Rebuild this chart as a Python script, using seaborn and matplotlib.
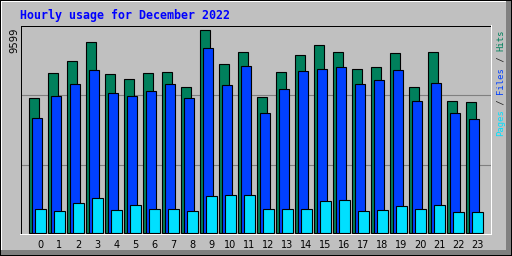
import numpy as np
import pandas as pd
import matplotlib
matplotlib.use("Agg")
import matplotlib.pyplot as plt
from matplotlib.patches import Rectangle
import seaborn as sns

hours = list(range(24))
hits = [6384, 7566, 8134, 9032, 7519, 7282, 7566, 7614, 6904, 9599, 7992, 8559,
        6431, 7614, 8417, 8890, 8559, 7755, 7850, 8512, 6904, 8559, 6242, 6195]
files = [5438, 6479, 7046, 7708, 6621, 6479, 6715, 7046, 6384, 8749, 6999, 7897,
         5675, 6810, 7661, 7756, 7850, 7046, 7235, 7708, 6242, 7094, 5675, 5391]
pages = [1135, 1040, 1433, 1655, 1088, 1324, 1135, 1135, 1040, 1750, 1797, 1797,
         1135, 1135, 1135, 1513, 1561, 1040, 1088, 1277, 1135, 1324, 993, 993]
tick_labels = [str(h) for h in hours]
title = "Hourly usage for December 2022"
max_label = "9599"

GRAY = "#C0C0C0"
DKGRAY = "#808080"
C_HITS = "#00805C"
C_FILES = "#0040FF"
C_PAGES = "#00E0FF"

sns.set_style("white")
W, H = 512, 256
fig = plt.figure(figsize=(W / 100, H / 100), dpi=100)
fig.patch.set_facecolor(GRAY)

def prect(x, y, w, h, color, z=0):
    fig.add_artist(Rectangle((x / W, 1 - (y + h) / H), w / W, h / H,
                             transform=fig.transFigure, facecolor=color,
                             edgecolor="none", zorder=z))

# outer bevel frame
prect(0, 0, W, 1, "black")
prect(0, 0, 1, H, "black")
prect(1, 1, W - 2, 1, "white")
prect(1, 1, 1, H - 2, "white")
prect(506, 1, 5, H - 1, DKGRAY)
prect(1, 250, W - 1, 5, DKGRAY)
prect(W - 1, 0, 1, H, "black")
prect(0, H - 1, W, 1, "black")

# axes in pixel placement
l, r, t, b = 20.5, 490.5, 25.5, 233.5
ax = fig.add_axes([l / W, 1 - b / H, (r - l) / W, (b - t) / H])
ax.set_facecolor(GRAY)

df = pd.DataFrame({"hour": hours, "hits": hits, "files": files, "pages": pages})
step = 19.0
df["x_hits"] = df["hour"] - 6.2 / step
df["x_files"] = df["hour"] - 3.2 / step
df["x_pages"] = df["hour"].astype(float)

bw = 10.3 / step
for col, xcol, c in [("hits", "x_hits", C_HITS), ("files", "x_files", C_FILES),
                     ("pages", "x_pages", C_PAGES)]:
    sns.barplot(data=df, x=xcol, y=col, native_scale=True, width=bw, color=c,
                saturation=1, edgecolor="black", linewidth=0.8, errorbar=None, ax=ax)

# grid lines
for f in (0.6635, 0.327):
    ax.plot([0, 1], [f, f], transform=ax.transAxes, color=DKGRAY, lw=0.8, zorder=0.5)

k = 9599 / 203.2
ax.set_ylim(-0.5 * k, 207.5 * k)
ax.set_xlim((l - 40.5) / step, (r - 40.5) / step)
ax.set_xticks(hours)
ax.set_xticklabels(tick_labels, fontsize=7, family="DejaVu Sans")
ax.tick_params(axis="x", length=0, pad=5, colors="black")
ax.set_yticks([])
ax.set_xlabel("")
ax.set_ylabel("")
for s in ax.spines.values():
    s.set_visible(True)
    s.set_color("black")
    s.set_linewidth(0.72)

# white inset lines right/bottom of plot
prect(491, 25, 1, 210, "white", z=5)
prect(20, 234, 472, 1, "white", z=5)

# title
fig.text(20 / W, 1 - 15.5 / H, title, color="#0000FF", fontsize=8.4,
         family="DejaVu Sans Mono", fontweight="bold", ha="left", va="center")
# max label
fig.text(14.5 / W, 1 - 27.5 / H, max_label, rotation=90, fontsize=7.2,
         family="DejaVu Sans", color="black", ha="center", va="top")

# right legend label
cw = 5.35
y0 = 136.5
pieces = [("Pages", C_PAGES), (" / ", "#202020"), ("Files", C_FILES),
          (" / ", "#202020"), ("Hits", C_HITS)]
idx = 0
for txt, c in pieces:
    fig.text(500.5 / W, 1 - (y0 - idx * cw) / H, txt, rotation=90, fontsize=6.4,
             family="DejaVu Sans Mono", color=c, ha="center", va="bottom")
    idx += len(txt)

fig.savefig("out.png", dpi=100, facecolor=GRAY)
